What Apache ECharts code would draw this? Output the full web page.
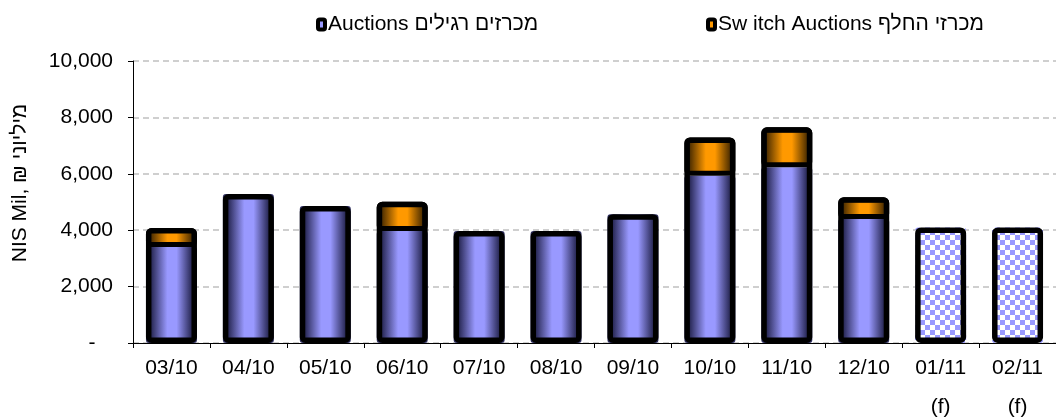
<!DOCTYPE html>
<html>
<head>
<meta charset="utf-8">
<script src="https://cdn.jsdelivr.net/npm/echarts@6/dist/echarts.min.js"></script>
<style>
html, body { margin: 0; padding: 0; background: #fff; }
#chart { width: 1056px; height: 420px; }
</style>
</head>
<body>
<div id="chart"></div>
<script>
// data
const months = ['03/10', '04/10', '05/10', '06/10', '07/10', '08/10', '09/10', '10/10', '11/10', '12/10', '01/11', '02/11'];
const notes = ['', '', '', '', '', '', '', '', '', '', '(f)', '(f)'];
const regular = [3400, 5280, 4860, 3970, 3970, 3970, 4570, 5930, 6230, 4400, null, null];
const switchAuctions = [680, null, null, 1040, null, null, null, 1360, 1420, 770, null, null];
const forecast = [null, null, null, null, null, null, null, null, null, null, 4100, 4100];
const yTicks = [0, 2000, 4000, 6000, 8000, 10000];

const regularName = 'Auctions מכרזים רגילים';
const switchName = 'Sw itch Auctions מכרזי החלף';
const yTitle = 'NIS Mil, ₪ מיליוני';

const font = "'Liberation Sans', Arial, sans-serif";

// whole-bar heights, used only for the thick outline drawn over the stack
const totals = months.map((m, i) => (regular[i] || 0) + (switchAuctions[i] || 0) + (forecast[i] || 0));

function shade(dark, light) {
  return new echarts.graphic.LinearGradient(0, 0, 1, 0, [
    { offset: 0, color: dark },
    { offset: 0.12, color: dark },
    { offset: 0.42, color: light },
    { offset: 0.6, color: light },
    { offset: 0.88, color: dark },
    { offset: 1, color: dark }
  ]);
}

// checkerboard for the forecast bars
const cell = 5;
const tile = document.createElement('canvas');
tile.width = cell * 2;
tile.height = cell * 2;
const tctx = tile.getContext('2d');
tctx.fillStyle = '#ffffff';
tctx.fillRect(0, 0, cell * 2, cell * 2);
tctx.fillStyle = '#9999ff';
tctx.fillRect(0, 0, cell, cell);
tctx.fillRect(cell, cell, cell, cell);

const labels = months.map((m, i) => notes[i] ? m + '\n\n' + notes[i] : m);

const barW = 51;

function legendFor(name, color, left) {
  return {
    left: left,
    top: 9,
    itemWidth: 7,
    itemHeight: 10,
    itemGap: 0,
    icon: 'roundRect',
    itemStyle: { borderColor: '#000', borderWidth: 4 },
    textStyle: { fontFamily: font, fontSize: 21, color: '#000', padding: [0, 0, 0, -2] },
    data: [{ name: name, itemStyle: { color: color } }]
  };
}

let myChart = echarts.init(document.getElementById('chart'));
let option = {
  animation: false,
  textStyle: { fontFamily: font },
  grid: { left: 133, top: 61, width: 938, height: 282 },
  legend: [
    legendFor(regularName, '#9999ff', 311),
    legendFor(switchName, '#ff9900', 701)
  ],
  graphic: [{
    type: 'text',
    x: 20,
    y: 183,
    rotation: Math.PI / 2,
    style: {
      text: yTitle,
      font: '21px ' + font,
      fill: '#000',
      align: 'center',
      verticalAlign: 'middle'
    }
  }],
  xAxis: {
    type: 'category',
    data: labels,
    axisLine: { lineStyle: { color: '#000', width: 1 } },
    axisTick: { show: true, length: 5, lineStyle: { color: '#000' } },
    axisLabel: {
      color: '#000',
      fontSize: 21,
      fontFamily: font,
      margin: 15,
      lineHeight: 19.5,
      interval: 0
    }
  },
  yAxis: {
    type: 'value',
    min: yTicks[0],
    max: yTicks[yTicks.length - 1],
    interval: yTicks[1] - yTicks[0],
    axisLine: { show: true, lineStyle: { color: '#000', width: 1 } },
    axisTick: { show: true, length: 5, lineStyle: { color: '#000' } },
    splitLine: { lineStyle: { color: '#c0c0c0', type: [6, 4], width: 1.5 } },
    axisLabel: {
      color: '#000',
      fontSize: 21,
      fontFamily: font,
      margin: 20,
      formatter: v => v === 0 ? '-   ' : v.toLocaleString('en-US')
    }
  },
  series: [
    {
      name: regularName,
      type: 'bar',
      stack: 'total',
      barWidth: barW,
      barGap: '-100%',
      data: regular,
      itemStyle: { color: shade('#2e2e5e', '#9999ff'), borderRadius: 3 }
    },
    {
      name: switchName,
      type: 'bar',
      stack: 'total',
      barWidth: barW,
      barGap: '-100%',
      data: switchAuctions,
      itemStyle: { color: shade('#573400', '#ff9900'), borderColor: '#000', borderWidth: 5, borderRadius: 3 }
    },
    {
      name: 'forecast',
      type: 'bar',
      stack: 'total',
      barWidth: barW,
      barGap: '-100%',
      data: forecast,
      itemStyle: { color: { image: tile, repeat: 'repeat' }, borderRadius: 3 }
    },
    {
      name: 'outline',
      type: 'bar',
      barWidth: barW,
      barGap: '-100%',
      z: 3,
      silent: true,
      data: totals,
      itemStyle: { color: 'rgba(0,0,0,0)', borderColor: '#000', borderWidth: 5.5, borderRadius: 3 }
    }
  ]
};

option && myChart.setOption(option);
</script>
</body>
</html>
